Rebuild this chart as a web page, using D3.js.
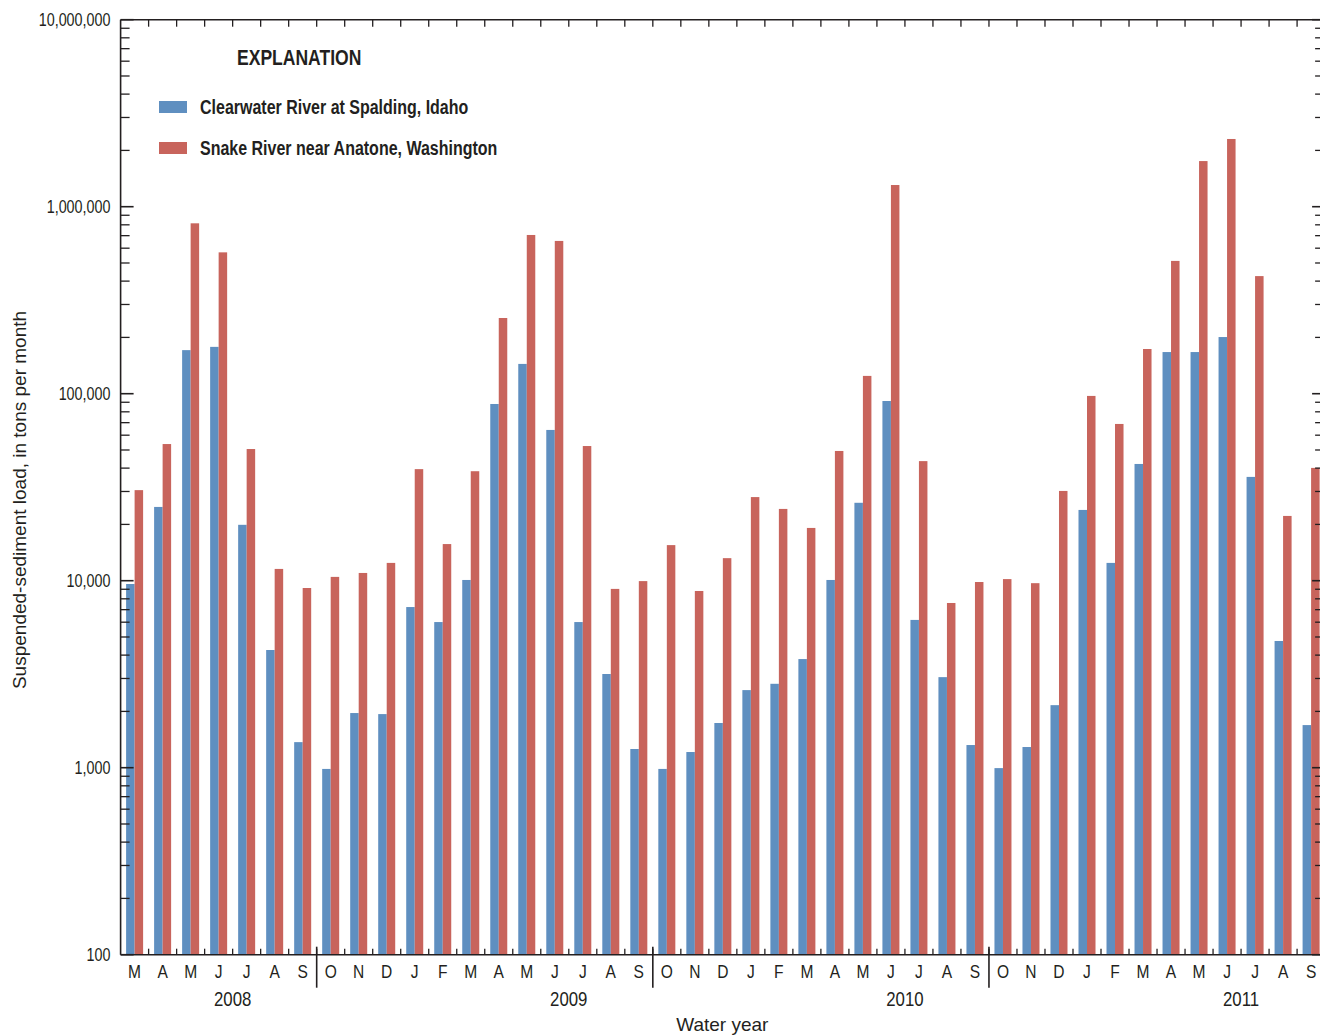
<!DOCTYPE html>
<html>
<head>
<meta charset="utf-8">
<script src="https://cdn.jsdelivr.net/npm/d3@7/dist/d3.min.js"></script>
<style>
  html, body { margin: 0; padding: 0; background: #fff; }
  svg { display: block; }
  text { font-family: "Liberation Sans", Arial, sans-serif; }
</style>
</head>
<body>
<svg id="chart" width="1320" height="1035"></svg>
<script>
// ---- Data ----
const monthLabels = ["M","A","M","J","J","A","S",
  "O","N","D","J","F","M","A","M","J","J","A","S",
  "O","N","D","J","F","M","A","M","J","J","A","S",
  "O","N","D","J","F","M","A","M","J","J","A","S"];

const clearwater = [9600, 24800, 171000, 178000, 19900, 4260, 1370,
  985, 1960, 1935, 7230, 6010, 10090, 88100, 144300, 64000, 6010, 3170, 1259,
  985, 1213, 1734, 2600, 2810, 3810, 10090, 26100, 91400, 6170, 3050, 1322,
  995, 1290, 2160, 23900, 12450, 42100, 167000, 167000, 200900, 35900, 4760, 1690];

const snake = [30500, 53800, 815000, 570000, 50600, 11560, 9140,
  10480, 11000, 12450, 39500, 15700, 38500, 254000, 706000, 656000, 52500, 9040, 9950,
  15500, 8810, 13200, 28000, 24200, 19150, 49400, 124500, 1306000, 43600, 7600, 9840,
  10200, 9700, 30200, 97300, 68900, 173400, 513000, 1754000, 2302000, 425500, 22200, 40100];

const seriesNames = ["Clearwater River at Spalding, Idaho", "Snake River near Anatone, Washington"];
const seriesColors = ["#5f8fc0", "#c8645c"];

const yearLabels = ["2008", "2009", "2010", "2011"];
const yearCenterMonthIndex = [4, 16, 28, 40];      // July of each calendar year (centre of calendar year)
const waterYearStartIndex = [7, 19, 31];           // October boundaries
const yTickValues = [100, 1000, 10000, 100000, 1000000, 10000000];

// ---- Layout ----
const svg = d3.select("#chart");
const pLeft = 120.6, pRight = 1325.1, pTop = 19.7, pBottom = 954.7;
const axisColor = "#231f20";
const condensed = 0.82;

const idx = d3.range(monthLabels.length);
const x = d3.scaleBand().domain(idx).range([pLeft, pRight]).paddingInner(0).paddingOuter(0);
const x1 = d3.scaleBand().domain([0, 1]).range([0, x.bandwidth()]).paddingInner(0).paddingOuter(0.647);
const y = d3.scaleLog().domain([100, 1e7]).range([pBottom, pTop]);

function label(g, str, tx, ty, size, opts = {}) {
  const sx = opts.sx == null ? condensed : opts.sx;
  const t = g.append("text")
    .attr("transform", `translate(${tx},${ty}) scale(${sx},1)`)
    .attr("font-size", size)
    .attr("text-anchor", opts.anchor || "start")
    .attr("fill", axisColor)
    .text(str);
  if (opts.weight) t.attr("font-weight", opts.weight);
  if (opts.dy) t.attr("dy", opts.dy);
  return t;
}

// ---- Bars ----
const series = [clearwater, snake];
const gBars = svg.append("g");
series.forEach((vals, s) => {
  gBars.selectAll(null).data(vals).enter().append("rect")
    .attr("x", (d, i) => x(i) + x1(s))
    .attr("width", x1.bandwidth())
    .attr("y", d => y(d))
    .attr("height", d => y(100) - y(d))
    .attr("fill", seriesColors[s]);
});

// ---- Axes ----
const gAx = svg.append("g").attr("stroke", axisColor).attr("fill", "none");
gAx.append("line").attr("x1", pLeft).attr("x2", pRight).attr("y1", pBottom).attr("y2", pBottom).attr("stroke-width", 1.6);
gAx.append("line").attr("x1", pLeft).attr("x2", pRight).attr("y1", pTop).attr("y2", pTop).attr("stroke-width", 1.6);
gAx.append("line").attr("x1", pLeft).attr("x2", pLeft).attr("y1", pTop).attr("y2", pBottom).attr("stroke-width", 1.6);
gAx.append("line").attr("x1", pRight).attr("x2", pRight).attr("y1", pTop).attr("y2", pBottom).attr("stroke-width", 1.6);

// month boundary ticks (top & bottom)
const bounds = d3.range(1, monthLabels.length).map(i => x(i));
bounds.forEach(bx => {
  gAx.append("line").attr("x1", bx).attr("x2", bx).attr("y1", pTop).attr("y2", pTop + 7).attr("stroke-width", 1.3);
  gAx.append("line").attr("x1", bx).attr("x2", bx).attr("y1", pBottom).attr("y2", pBottom - 6).attr("stroke-width", 1.3);
});
// water-year separators
waterYearStartIndex.forEach(i => {
  const bx = x(i);
  gAx.append("line").attr("x1", bx).attr("x2", bx).attr("y1", pBottom - 8).attr("y2", pBottom + 33).attr("stroke-width", 1.6);
});

// log ticks left/right
const majors = yTickValues;
const minors = [];
for (let k = 2; k <= 6; k++) for (let m = 2; m <= 9; m++) minors.push(m * Math.pow(10, k));
majors.forEach(v => {
  gAx.append("line").attr("x1", pLeft).attr("x2", pLeft + 13).attr("y1", y(v)).attr("y2", y(v)).attr("stroke-width", 1.6);
  gAx.append("line").attr("x1", pRight).attr("x2", pRight - 13).attr("y1", y(v)).attr("y2", y(v)).attr("stroke-width", 1.6);
});
minors.forEach(v => {
  gAx.append("line").attr("x1", pLeft).attr("x2", pLeft + 9).attr("y1", y(v)).attr("y2", y(v)).attr("stroke-width", 1.3);
  gAx.append("line").attr("x1", pRight).attr("x2", pRight - 10).attr("y1", y(v)).attr("y2", y(v)).attr("stroke-width", 1.3);
});

// ---- Labels ----
const fmt = d3.format(",");
const gT = svg.append("g");
majors.forEach(v => {
  label(gT, fmt(v), 110.5, y(v), 17.5, { anchor: "end", dy: "0.36em" });
});
monthLabels.forEach((m, i) => {
  label(gT, m, x(i) + x.bandwidth() / 2, 978, 19, { anchor: "middle" });
});
yearLabels.forEach((yr, j) => {
  label(gT, yr, x(yearCenterMonthIndex[j]), 1005.5, 20.5, { anchor: "middle" });
});
label(gT, "Water year", (pLeft + 1320) / 2 + 2, 1031, 19, { anchor: "middle", sx: 1 });
gT.append("text")
  .attr("transform", "translate(26,500) rotate(-90)")
  .attr("text-anchor", "middle").attr("font-size", 19).attr("fill", axisColor)
  .text("Suspended-sediment load, in tons per month");

// ---- Legend ----
const gL = svg.append("g");
label(gL, "EXPLANATION", 237, 65, 21.4, { weight: "bold" });
seriesNames.forEach((name, s) => {
  const yy = 101 + s * 41;
  gL.append("rect").attr("x", 159).attr("y", yy).attr("width", 28).attr("height", 12).attr("fill", seriesColors[s]);
  label(gL, name, 200, yy + 12.5, 19.5, { weight: "bold" });
});
</script>
</body>
</html>
